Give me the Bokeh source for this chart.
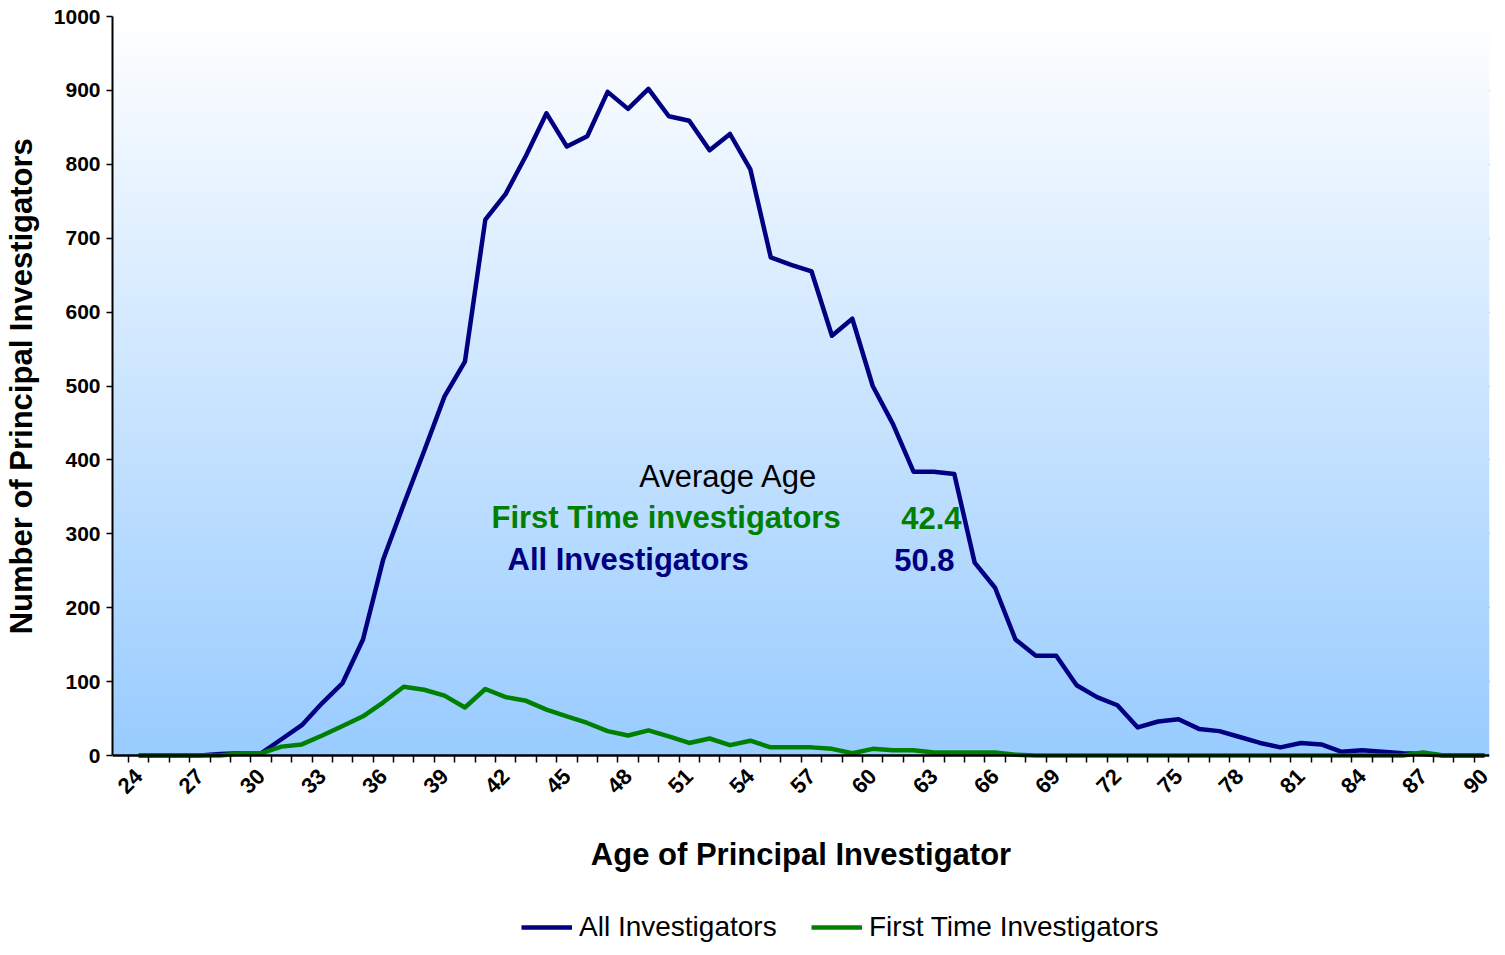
import math
import numpy as np
from bokeh.plotting import figure
from bokeh.models import FixedTicker, Label, Legend, LegendItem, Range1d
from bokeh.embed import file_html
from bokeh.resources import INLINE

# ---------------- data ----------------
ages = list(range(24, 91))
all_investigators = [
    0, 0, 0, 0, 2, 3, 3, 22, 41, 71,          # 24-33
    98, 157, 266, 340, 412, 486, 533, 725, 760, 812,   # 34-43
    869, 824, 838, 898, 875, 902, 865, 859, 819, 841,  # 44-53
    793, 674, 664, 655, 568, 591, 500, 448, 384, 384,  # 54-63
    381, 261, 227, 157, 135, 135, 95, 79, 68, 38,      # 64-73
    46, 49, 36, 33, 25, 17, 11, 17, 15, 5,             # 74-83
    7, 5, 3, 2, 0, 0, 0,                               # 84-90
]
first_time = [
    0, 0, 0, 0, 0, 3, 3, 12, 15, 27,                   # 24-33
    40, 53, 72, 93, 89, 81, 65, 90, 79, 74,            # 34-43
    62, 53, 44, 33, 27, 34, 26, 17, 23, 14,            # 44-53
    20, 11, 11, 11, 9, 3, 9, 7, 7, 4,                  # 54-63
    4, 4, 4, 1, 0, 0, 0, 0, 0, 0,                      # 64-73
    0, 0, 0, 0, 0, 0, 0, 0, 0, 0,                      # 74-83
    0, 0, 0, 4, 0, 0, 0,                               # 84-90
]
x_tick_labels = list(range(24, 91, 3))
y_ticks = list(range(0, 1001, 100))
avg_first_time = "42.4"
avg_all = "50.8"

FONT = "Liberation Sans"
NAVY = "#000080"
GREEN = "#008000"

SHIFT = 16                        # frame starts a little left of the first category
FRAME_W = 1361 + SHIFT
X1 = 90.25
X0 = 23.5 - SHIFT * (X1 - 23.5) / 1361
FRAME_H = 929                     # frame runs to the bottom of the figure
PX_PER_UNIT = 0.739               # 739 px for 0..1000
Y_MIN = 1000 - FRAME_H / PX_PER_UNIT
BASE = FRAME_H - 1000 * PX_PER_UNIT   # screen offset of the y=0 line inside the frame

p = figure(frame_width=FRAME_W, frame_height=FRAME_H, output_backend="svg", toolbar_location=None,
           x_range=Range1d(X0, X1), y_range=Range1d(Y_MIN, 1000),
           min_border_left=108, min_border_right=4, min_border_top=16,
           min_border_bottom=0)
p.outline_line_color = None
p.background_fill_color = "white"
p.border_fill_color = "white"

# gradient background (white at top -> light blue at bottom), only over 0..1000
n = 256
t = np.linspace(0.0, 1.0, n)
img = np.empty((n, 1), dtype=np.uint32)
view = img.view(dtype=np.uint8).reshape((n, 1, 4))
view[:, 0, 0] = (153 + (255 - 153) * t).astype(np.uint8)
view[:, 0, 1] = (204 + (255 - 204) * t).astype(np.uint8)
view[:, 0, 2] = 255
view[:, 0, 3] = 255
p.image_rgba(image=[img], x=X0, y=0, dw=X1 - X0, dh=1000)

# grid
p.xgrid.visible = False
p.ygrid.ticker = FixedTicker(ticks=[v for v in y_ticks if 0 < v < 1000])
p.ygrid.grid_line_color = "black"
p.ygrid.grid_line_width = 1.5
p.ygrid.level = "image"

r_all = p.line(ages, all_investigators, line_color=NAVY, line_width=4.5, line_join="round")
r_first = p.line(ages, first_time, line_color=GREEN, line_width=4.5, line_join="round")

# x axis, drawn at y = 0 inside the tall frame
p.xaxis.fixed_location = 0
p.xaxis.ticker = FixedTicker(ticks=x_tick_labels, minor_ticks=[a + 0.5 for a in range(23, 90)])
p.xaxis.major_label_orientation = math.pi / 4
p.xaxis.major_tick_out = 0
p.xaxis.major_tick_in = 0
p.xaxis.minor_tick_out = 7
p.xaxis.minor_tick_in = 0
p.xaxis.minor_tick_line_color = "black"
p.xaxis.minor_tick_line_width = 1.5
p.xaxis.axis_line_color = "black"
p.xaxis.axis_line_width = 2.5
p.xaxis.major_label_text_font = FONT
p.xaxis.major_label_text_font_style = "bold"
p.xaxis.major_label_text_font_size = "22px"
p.xaxis.major_label_text_color = "black"
p.xaxis.major_label_standoff = 10
p.xaxis.axis_label = "Age of Principal Investigator"
p.xaxis.axis_label_text_font = FONT
p.xaxis.axis_label_text_font_style = "bold"
p.xaxis.axis_label_text_font_size = "31px"
p.xaxis.axis_label_text_color = "black"
p.xaxis.axis_label_standoff = 34

# y axis
p.yaxis.bounds = (0, 1000)
p.yaxis.ticker = FixedTicker(ticks=y_ticks)
p.yaxis.minor_tick_line_color = None
p.yaxis.major_tick_out = 6
p.yaxis.major_tick_in = 0
p.yaxis.major_tick_line_color = "black"
p.yaxis.major_tick_line_width = 1.5
p.yaxis.axis_line_color = "black"
p.yaxis.axis_line_width = 2
p.yaxis.major_label_text_font = FONT
p.yaxis.major_label_text_font_style = "bold"
p.yaxis.major_label_text_font_size = "21px"
p.yaxis.major_label_text_color = "black"
p.yaxis.major_label_standoff = 6
# leading no-break spaces lift the visible title to the middle of the 0..1000 span
p.yaxis.axis_label = "\u00a0" * 22 + "Number of Principal Investigators"
p.yaxis.axis_label_text_font = FONT
p.yaxis.axis_label_text_font_style = "bold"
p.yaxis.axis_label_text_font_size = "31px"
p.yaxis.axis_label_text_color = "black"
p.yaxis.axis_label_standoff = 12

# annotation block
def lab(text, x, y, color, bold, align):
    p.add_layout(Label(x=SHIFT + x, y=BASE + y, x_units="screen", y_units="screen", text=text,
                       text_font=FONT, text_font_size="31px",
                       text_font_style="bold" if bold else "normal",
                       text_color=color, text_align=align, text_baseline="middle"))

lab("Average Age", 600, 279, "black", False, "center")
lab("First Time investigators", 363, 238, GREEN, True, "left")
lab(avg_first_time, 833, 238, GREEN, True, "right")
lab("All Investigators", 379, 196, NAVY, True, "left")
lab(avg_all, 826, 196, NAVY, True, "right")

legend = Legend(items=[LegendItem(label="All Investigators", renderers=[r_all]),
                       LegendItem(label="First Time Investigators", renderers=[r_first])],
                location=(SHIFT + 393, 2), orientation="horizontal",
                glyph_width=51, glyph_height=28, label_standoff=7, spacing=19,
                label_width=213,
                padding=0, margin=0, border_line_color=None, background_fill_alpha=0,
                label_text_font=FONT, label_text_font_size="28px", label_text_color="black")
p.add_layout(legend)

open("out.html", "w").write(file_html(p, INLINE))
